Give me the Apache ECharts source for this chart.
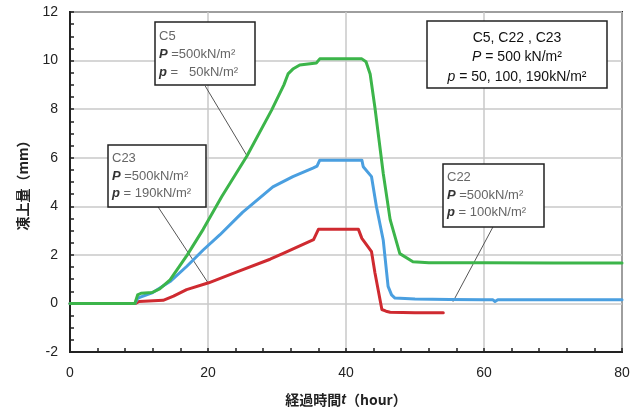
<!DOCTYPE html>
<html><head><meta charset="utf-8">
<script src="https://cdn.jsdelivr.net/npm/echarts@6/dist/echarts.min.js"></script>
<style>html,body{margin:0;padding:0;background:#fff}#c{width:636px;height:414px}</style>
</head><body><div id="c"></div>
<script>
// C5 (green): P=500, p=50
const c5Time = [0, 9.4, 9.8, 10.3, 11.9, 13, 14.5, 17, 19.3, 22, 25.6, 29.2, 31.0, 31.6, 32.3, 33.3, 35.7, 36.2, 40, 42.3, 42.9, 43.5, 44.2, 45.4, 46.4, 47.8, 49.7, 52, 60, 70, 80];
const c5Val  = [0, 0, 0.35, 0.42, 0.45, 0.6, 0.97, 2.0, 3.05, 4.4, 6.05, 7.95, 9.0, 9.45, 9.65, 9.82, 9.9, 10.07, 10.07, 10.07, 9.95, 9.45, 8.05, 5.35, 3.45, 2.05, 1.72, 1.68, 1.67, 1.66, 1.66];
// C22 (blue): P=500, p=100
const c22Time = [0, 9.4, 9.8, 10.1, 12, 14.5, 16.9, 19.3, 21.7, 25, 29.4, 32.3, 35.2, 35.8, 36.2, 40, 42.3, 42.5, 43.7, 44.4, 45.4, 46.1, 46.6, 47.1, 50, 55, 60, 61.3, 61.6, 62, 70, 80];
const c22Val  = [0, 0, 0.2, 0.25, 0.45, 0.9, 1.52, 2.2, 2.82, 3.75, 4.8, 5.22, 5.57, 5.65, 5.9, 5.9, 5.9, 5.63, 5.22, 4.0, 2.6, 0.7, 0.35, 0.22, 0.18, 0.16, 0.15, 0.15, 0.08, 0.15, 0.15, 0.15];
// C23 (red): P=500, p=190
const c23Time = [0, 9.5, 10, 13.5, 15, 16.9, 20.1, 24.2, 29, 30.9, 35.3, 36, 41.8, 42.3, 43.7, 44.2, 45.2, 45.8, 46.4, 50, 54.1];
const c23Val  = [0, 0, 0.08, 0.13, 0.3, 0.57, 0.85, 1.3, 1.82, 2.06, 2.63, 3.05, 3.05, 2.68, 2.13, 1.25, -0.25, -0.32, -0.36, -0.38, -0.38];

const xMin = 0, xMax = 80, xStep = 20;
const yMin = -2, yMax = 12, yStep = 2;

// leader line anchors [t, value]: from box to curve
const leaderC5  = [[19.6, 8.95], [25.65, 6.08]];
const leaderC23 = [[12.75, 3.98], [20.0, 0.85]];
const leaderC22 = [[61.3, 3.15], [55.5, 0.07]];

const chart = echarts.init(document.getElementById('c'));
const pairs = (t, v) => t.map((x, i) => [x, v[i]]);
const numFont = '"Liberation Sans", Arial, sans-serif';
const jpFont = '"Noto Sans CJK JP", sans-serif';

function lineSeries(name, t, v, color, z) {
  return {name: name, type: 'line', data: pairs(t, v), showSymbol: false,
    lineStyle: {color: color, width: 3, join: 'round', cap: 'round'}, itemStyle: {color: color}, z: z};
}

chart.setOption({
  animation: false,
  grid: {left: 70, right: 14, top: 12, bottom: 62, show: true, borderColor: '#222', borderWidth: 2},
  xAxis: {
    type: 'value', min: xMin, max: xMax, interval: xStep,
    axisLine: {show: true, onZero: false, lineStyle: {color: '#222', width: 2}},
    axisTick: {show: true, inside: true, length: 4, lineStyle: {color: '#222', width: 1.5}},
    minorTick: {show: true, splitNumber: 5, length: 4, lineStyle: {color: '#222', width: 1.5}},
    splitLine: {show: true, lineStyle: {color: '#c8c8c8', width: 1.5}},
    axisLabel: {margin: 14, fontSize: 14, color: '#222', fontFamily: numFont},
    name: '経過時間{i|t}（hour）', nameLocation: 'middle', nameGap: 41,
    nameTextStyle: {fontSize: 14, color: '#222', fontFamily: jpFont, fontWeight: 'bold',
      rich: {i: {fontStyle: 'italic', fontSize: 14, fontFamily: numFont, color: '#222', fontWeight: 'bold'}}}
  },
  yAxis: {
    type: 'value', min: yMin, max: yMax, interval: yStep,
    axisLine: {show: true, onZero: false, lineStyle: {color: '#222', width: 2}},
    axisTick: {show: true, inside: true, length: 4, lineStyle: {color: '#222', width: 1.5}},
    minorTick: {show: true, splitNumber: 4, length: 4, lineStyle: {color: '#222', width: 1.5}},
    splitLine: {show: true, lineStyle: {color: '#c8c8c8', width: 1.5}},
    axisLabel: {margin: 12, fontSize: 14, color: '#222', fontFamily: numFont},
    name: '凍上量（mm）', nameLocation: 'middle', nameGap: 40, nameRotate: 90,
    nameTextStyle: {fontSize: 14, color: '#222', fontFamily: jpFont, fontWeight: 'bold'}
  },
  series: [
    lineSeries('C23', c23Time, c23Val, '#cf2a30', 3),
    lineSeries('C22', c22Time, c22Val, '#4a9fe0', 4),
    lineSeries('C5', c5Time, c5Val, '#3cb54a', 5)
  ]
});

function leader(a) {
  const p1 = chart.convertToPixel({gridIndex: 0}, a[0]);
  const p2 = chart.convertToPixel({gridIndex: 0}, a[1]);
  return {type: 'line', z: 2, shape: {x1: p1[0], y1: p1[1], x2: p2[0], y2: p2[1]}, style: {stroke: '#555', lineWidth: 1}};
}
const calloutRich = {
  g: {fill: '#666', fontSize: 13, fontFamily: numFont},
  i: {fill: '#333', fontSize: 13, fontFamily: numFont, fontStyle: 'italic', fontWeight: 'bold'}
};
function callout(x, y, w, h, lines, lh) {
  return [
    {type: 'rect', z: 10, shape: {x: x, y: y, width: w, height: h}, style: {fill: '#fff', stroke: '#222', lineWidth: 1.5}},
    {type: 'text', z: 11, x: x + 4, y: y + 5, style: {text: lines.join('\n'), rich: calloutRich, lineHeight: lh, fill: '#666', font: '13px ' + numFont}}
  ];
}
const mainRich = {
  n: {fill: '#111', fontSize: 14, fontFamily: numFont},
  i: {fill: '#111', fontSize: 14, fontFamily: numFont, fontStyle: 'italic'}
};
chart.setOption({
  graphic: [
    leader(leaderC5), leader(leaderC23), leader(leaderC22),
    ...callout(155, 22, 100, 63, ['{g|C5}', '{i|P}{g| =500kN/m²}', '{i|p}{g| =   50kN/m²}'], 18),
    ...callout(108, 145, 98, 62, ['{g|C23}', '{i|P}{g| =500kN/m²}', '{i|p}{g| = 190kN/m²}'], 17.5),
    ...callout(443, 164, 101, 63, ['{g|C22}', '{i|P}{g| =500kN/m²}', '{i|p}{g| = 100kN/m²}'], 17.5),
    {type: 'rect', z: 10, shape: {x: 427, y: 21, width: 180, height: 67}, style: {fill: '#fff', stroke: '#222', lineWidth: 1.5}},
    {type: 'text', z: 11, x: 517, y: 28, style: {text: '{n|C5, C22 , C23}\n{i|P}{n| = 500 kN/m²}\n{i|p}{n| = 50, 100, 190kN/m²}', rich: mainRich, lineHeight: 19.5, align: 'center', textAlign: 'center', fill: '#111', font: '14px ' + numFont}}
  ]
});
</script></body></html>
